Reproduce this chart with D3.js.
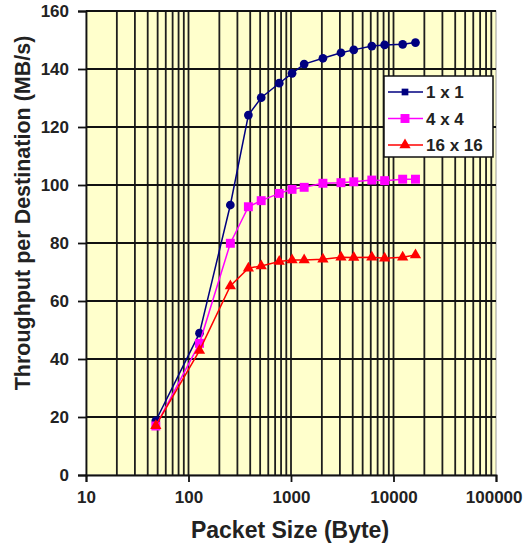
<!DOCTYPE html>
<html lang="en">
<head>
<meta charset="UTF-8">
<title>Throughput per Destination</title>
<script src="https://d3js.org/d3.v7.min.js"></script>
<style>
  body { margin: 0; background: #fff; }
  svg text { font-family: "Liberation Sans", Arial, sans-serif; font-weight: bold; fill: #222; }
</style>
</head>
<body>
<div id="chart"></div>
<script>
// packet sizes (bytes) and throughput per destination (MB/s)
const packetSizes = [48, 128, 256, 384, 512, 768, 1024, 1344, 2048, 3072, 4096, 6144, 8192, 12288, 16384];
const series1x1 = [18.7, 48.9, 93.1, 124.1, 130.1, 135.1, 138.5, 141.7, 143.7, 145.6, 146.6, 147.9, 148.3, 148.5, 149.1];
const series4x4 = [16.9, 45.4, 79.9, 92.5, 94.6, 97.1, 98.5, 99.2, 100.6, 100.8, 101.1, 101.7, 101.5, 102, 102];
const series16x16 = [17, 42.9, 65.2, 71.3, 72.1, 73.6, 74.1, 74.1, 74.4, 75.1, 75, 75.1, 74.7, 75.1, 75.9];
const seriesNames = ["1 x 1", "4 x 4", "16 x 16"];
const yTicks = [0, 20, 40, 60, 80, 100, 120, 140, 160];
const xTicks = [10, 100, 1000, 10000, 100000];

const width = 523, height = 546;
const plot = { left: 86, right: 496, top: 11, bottom: 475 };

const svg = d3.select("#chart").append("svg").attr("width", width).attr("height", height);

const x = d3.scaleLog().domain([10, 100000]).range([plot.left, plot.right]);
const y = d3.scaleLinear().domain([0, 160]).range([plot.bottom, plot.top]);

// plot background
svg.append("rect")
  .attr("x", plot.left).attr("y", plot.top)
  .attr("width", plot.right - plot.left).attr("height", plot.bottom - plot.top)
  .attr("fill", "#ffffcc").attr("stroke", "#999").attr("stroke-width", 1);

// vertical grid: every minor step of each decade
const minor = [];
for (let d = 10; d < 100000; d *= 10) {
  for (let k = 1; k < 10; k++) if (d * k > 10) minor.push(d * k);
}
svg.append("g").selectAll("line").data(minor).join("line")
  .attr("x1", d => x(d)).attr("x2", d => x(d))
  .attr("y1", plot.top).attr("y2", plot.bottom)
  .attr("stroke", "#1e1e1e").attr("stroke-width", 1.8);

// horizontal grid
svg.append("g").selectAll("line").data(yTicks.slice(1)).join("line")
  .attr("x1", plot.left).attr("x2", plot.right)
  .attr("y1", d => y(d)).attr("y2", d => y(d))
  .attr("stroke", "#111").attr("stroke-width", 1.8);

// axes
const yAxis = svg.append("g").attr("transform", `translate(${plot.left},0)`)
  .call(d3.axisLeft(y).tickValues(yTicks).tickSize(8).tickPadding(9));
const xAxis = svg.append("g").attr("transform", `translate(0,${plot.bottom})`)
  .call(d3.axisBottom(x).tickValues(xTicks).tickFormat(d3.format("d")).tickSize(7).tickPadding(9));
[xAxis, yAxis].forEach(a => {
  a.select(".domain").attr("stroke", "#111").attr("stroke-width", 1.8);
  a.selectAll(".tick line").attr("stroke", "#111").attr("stroke-width", 1.8);
  a.selectAll(".tick text").style("font-size", "17px").attr("fill", "#222");
});
// last label sits against the right edge
xAxis.selectAll(".tick text").filter(d => d === 100000)
  .attr("text-anchor", "end").attr("x", 26);

// axis titles
svg.append("text")
  .attr("x", (plot.left + plot.right) / 2 - 1).attr("y", 538)
  .attr("text-anchor", "middle").style("font-size", "23px")
  .text("Packet Size (Byte)");
svg.append("text")
  .attr("transform", "translate(30,213) rotate(-90)")
  .attr("text-anchor", "middle").style("font-size", "21.5px")
  .text("Throughput per Destination (MB/s)");

// series
const series = [
  { name: seriesNames[0], values: series1x1, color: "#000080", symbol: d3.symbolCircle, size: 60 },
  { name: seriesNames[1], values: series4x4, color: "#ff00ff", symbol: d3.symbolSquare, size: 80 },
  { name: seriesNames[2], values: series16x16, color: "#ff0000", symbol: d3.symbolTriangle, size: 55 }
];

const line = d3.line().x(d => x(d[0])).y(d => y(d[1]));

series.forEach(s => {
  const pts = packetSizes.map((p, i) => [p, s.values[i]]);
  svg.append("path").datum(pts)
    .attr("d", line).attr("fill", "none")
    .attr("stroke", s.color).attr("stroke-width", 1.5);
  svg.append("g").selectAll("path").data(pts).join("path")
    .attr("transform", d => `translate(${x(d[0])},${y(d[1])})`)
    .attr("d", d3.symbol(s.symbol, s.size))
    .attr("fill", s.color);
});

// legend
const legend = svg.append("g").attr("transform", "translate(384,76)");
legend.append("rect")
  .attr("width", 109).attr("height", 81)
  .attr("fill", "#fff").attr("stroke", "#111").attr("stroke-width", 1.5);
const legendSymbols = [d3.symbolSquare, d3.symbolSquare, d3.symbolTriangle];
const legendSizes = [45, 80, 55];
series.forEach((s, i) => {
  const row = legend.append("g").attr("transform", `translate(0,${16 + i * 26.5})`);
  row.append("line").attr("x1", 4).attr("x2", 39)
    .attr("stroke", s.color).attr("stroke-width", 1.5);
  row.append("path").attr("transform", "translate(21,0)")
    .attr("d", d3.symbol(legendSymbols[i], legendSizes[i]))
    .attr("fill", s.color);
  row.append("text").attr("x", 42).attr("y", 6)
    .style("font-size", "17px").text(s.name);
});
</script>
</body>
</html>
